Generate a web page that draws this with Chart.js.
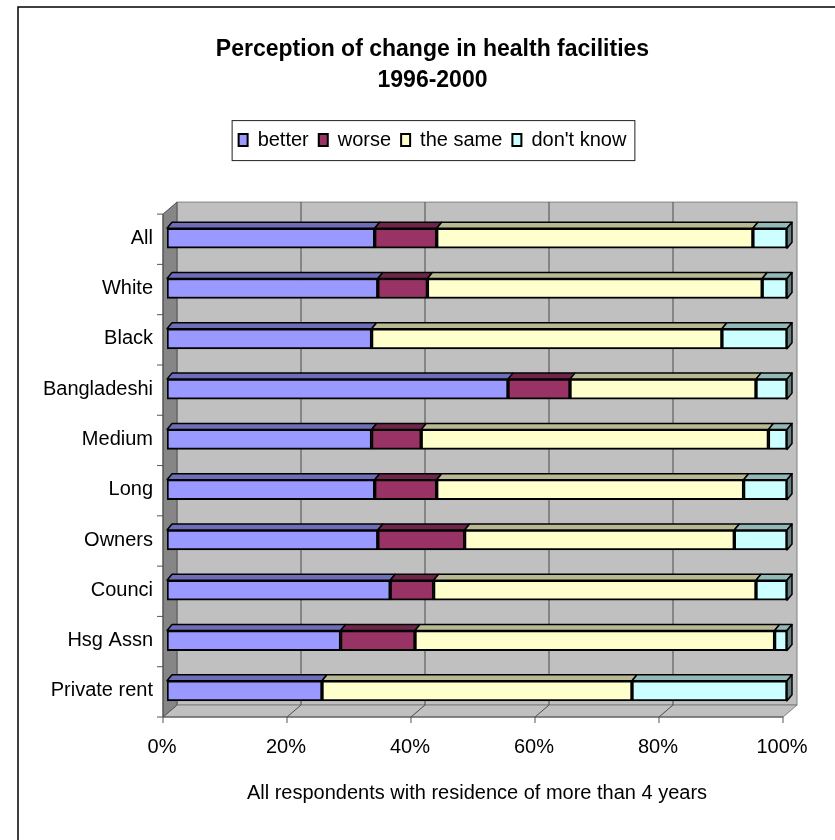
<!DOCTYPE html>
<html>
<head>
<meta charset="utf-8">
<script src="https://cdn.jsdelivr.net/npm/chart.js"></script>
<style>
html, body { margin: 0; padding: 0; background: #fff; overflow: hidden; }
#wrap { width: 835px; height: 840px; }
</style>
</head>
<body>
<div id="wrap"><canvas id="chart"></canvas></div>
<script>
const categories = ['All', 'White', 'Black', 'Bangladeshi', 'Medium', 'Long', 'Owners', 'Counci', 'Hsg Assn', 'Private rent'];
const better   = [33.5, 34, 33,   55, 33, 33.5, 34,   36, 28, 25];
const worse    = [10,   8,  0,    10, 8,  10,   14,   7,  12, 0];
const theSame  = [51,   54, 56.5, 30, 56, 49.5, 43.5, 52, 58, 50];
const dontKnow = [5.5,  4,  10.5, 5,  3,  7,    8.5,  5,  2,  25];
const xTicks = [0, 20, 40, 60, 80, 100];

// 3d look of the old excel chart
const depth = { wallX: 14, wallY: 12, front: -4, barX: 5, barY: 6 };

Chart.defaults.font.family = "'Liberation Sans', Arial, sans-serif";
Chart.defaults.color = '#000';

function shade(hex, f) {
    const n = parseInt(hex.slice(1), 16);
    const r = Math.round(((n >> 16) & 255) * f);
    const g = Math.round(((n >> 8) & 255) * f);
    const b = Math.round((n & 255) * f);
    return 'rgb(' + r + ',' + g + ',' + b + ')';
}

const excel3d = {
    id: 'excel3d',
    beforeDraw(chart) {
        const g = chart.ctx;
        g.save();
        g.fillStyle = '#fff';
        g.fillRect(0, 0, chart.width, chart.height);
        g.strokeStyle = '#000';
        g.lineWidth = 1.5;
        g.strokeRect(18, 7, chart.width + 40, chart.height + 40);
        g.restore();
    },
    beforeDatasetsDraw(chart) {
        const g = chart.ctx;
        const a = chart.chartArea;
        const x = chart.scales.x;
        const fl = x.getPixelForValue(0) + depth.front;
        const fr = x.getPixelForValue(100) + depth.front;
        const fb = a.bottom + 1;
        const ft = a.top + 1;
        const bl = fl + depth.wallX, br = fr + depth.wallX;
        const bt = ft - depth.wallY, bb = fb - depth.wallY;
        g.save();
        g.lineWidth = 1;
        // back wall
        g.fillStyle = '#c0c0c0';
        g.strokeStyle = '#808080';
        g.fillRect(bl, bt, br - bl, bb - bt);
        g.strokeRect(bl, bt, br - bl, bb - bt);
        // floor
        g.beginPath();
        g.moveTo(fl, fb); g.lineTo(bl, bb); g.lineTo(br, bb); g.lineTo(fr, fb); g.closePath();
        g.fill(); g.stroke();
        // side wall
        g.fillStyle = '#868686';
        g.strokeStyle = '#555';
        g.beginPath();
        g.moveTo(fl, ft); g.lineTo(bl, bt); g.lineTo(bl, bb); g.lineTo(fl, fb); g.closePath();
        g.fill(); g.stroke();
        // grid lines on the wall and floor
        g.strokeStyle = '#4a4a4a';
        xTicks.forEach(v => {
            const px = x.getPixelForValue(v) + depth.front;
            if (v > 0 && v < 100) {
                g.beginPath();
                g.moveTo(px + depth.wallX, bt);
                g.lineTo(px + depth.wallX, bb);
                g.lineTo(px, fb);
                g.stroke();
            }
        });
        // axis lines and tick marks
        g.strokeStyle = '#555';
        g.beginPath();
        g.moveTo(fl, ft); g.lineTo(fl, fb); g.lineTo(fr, fb);
        xTicks.forEach(v => {
            const px = x.getPixelForValue(v) + depth.front;
            g.moveTo(px, fb); g.lineTo(px, fb + 6);
        });
        const n = categories.length;
        for (let i = 0; i <= n; i++) {
            const py = ft + i * (fb - ft) / n;
            g.moveTo(fl - 6, py); g.lineTo(fl, py);
        }
        g.stroke();
        g.restore();
    },
    afterDatasetsDraw(chart) {
        const g = chart.ctx;
        const last = chart.data.datasets.length - 1;
        g.save();
        g.lineWidth = 1.5;
        g.strokeStyle = '#000';
        g.lineJoin = 'round';
        chart.data.datasets.forEach((ds, i) => {
            chart.getDatasetMeta(i).data.forEach(bar => {
                const p = bar.getProps(['x', 'base', 'y', 'height'], true);
                const l = Math.min(p.x, p.base), r = Math.max(p.x, p.base);
                const t = p.y - p.height / 2, b = p.y + p.height / 2;
                if (r - l < 0.5) return;
                g.fillStyle = shade(ds.backgroundColor, 0.72);
                g.beginPath();
                g.moveTo(l, t); g.lineTo(l + depth.barX, t - depth.barY);
                g.lineTo(r + depth.barX, t - depth.barY); g.lineTo(r, t);
                g.closePath(); g.fill(); g.stroke();
                if (i === last) {
                    g.fillStyle = shade(ds.backgroundColor, 0.5);
                    g.beginPath();
                    g.moveTo(r, t); g.lineTo(r + depth.barX, t - depth.barY);
                    g.lineTo(r + depth.barX, b - depth.barY); g.lineTo(r, b);
                    g.closePath(); g.fill(); g.stroke();
                }
            });
        });
        g.restore();
    },
    afterDraw(chart) {
        const lg = chart.legend;
        const boxes = lg.legendHitBoxes;
        if (!boxes || !boxes.length) return;
        const left = Math.min(...boxes.map(h => h.left)) - 7;
        const right = Math.max(...boxes.map(h => h.left + h.width)) + 8;
        const g = chart.ctx;
        g.save();
        g.strokeStyle = '#222';
        g.lineWidth = 1;
        g.strokeRect(left + 0.5, lg.top + 0.5, right - left, lg.height);
        g.restore();
    }
};

const canvas = document.getElementById('chart');

const myChart = new Chart(canvas, {
    type: 'bar',
    data: {
        labels: categories,
        datasets: [
        {
            label: 'better',
            data: better,
            backgroundColor: '#9999FF'
        },
        {
            label: 'worse',
            data: worse,
            backgroundColor: '#993366'
        },
        {
            label: 'the same',
            data: theSame,
            backgroundColor: '#FFFFCC'
        },
        {
            label: "don't know",
            data: dontKnow,
            backgroundColor: '#CCFFFF'
        }]
    },
    options: {
        indexAxis: 'y',
        responsive: true,
        maintainAspectRatio: false,
        animation: false,
        layout: {
            padding: { top: 0, left: 30, right: 0, bottom: 31 }
        },
        datasets: {
            bar: {
                borderColor: '#000',
                borderWidth: 2,
                borderSkipped: false,
                barThickness: 20
            }
        },
        plugins: {
            title: {
                display: true,
                text: ['Perception of change in health facilities', '1996-2000'],
                font: { size: 23, weight: 'bold', lineHeight: 1.35 },
                padding: { top: 34, bottom: 24 }
            },
            legend: {
                labels: {
                    boxWidth: 9,
                    boxHeight: 12,
                    padding: 10,
                    font: { size: 20 }
                }
            },
            // empty spacer between legend and plot
            subtitle: {
                display: true,
                text: '',
                weight: 500,
                font: { size: 10, lineHeight: 1 },
                padding: { top: 43, bottom: 0 }
            },
            tooltip: { enabled: false }
        },
        scales: {
            x: {
                stacked: true,
                min: 0,
                max: 100,
                grid: { display: false, drawTicks: false },
                border: { display: false },
                ticks: {
                    stepSize: 20,
                    padding: 19,
                    labelOffset: -5,
                    font: { size: 20 },
                    callback: v => v + '%'
                },
                title: {
                    display: true,
                    text: 'All respondents with residence of more than 4 years',
                    font: { size: 20 },
                    padding: { top: 3, bottom: 4 }
                }
            },
            y: {
                stacked: true,
                grid: { display: false, drawTicks: false },
                border: { display: false },
                ticks: { padding: 14, font: { size: 20 } },
                afterFit: s => { s.width = 137; }
            },
            // blank right margin so the title and legend sit where the original has them
            y2: {
                position: 'right',
                grid: { display: false, drawTicks: false },
                border: { display: false },
                ticks: { display: false },
                afterFit: s => { s.width = 48; }
            }
        }
    },
    plugins: [excel3d]
});
</script>
</body>
</html>
